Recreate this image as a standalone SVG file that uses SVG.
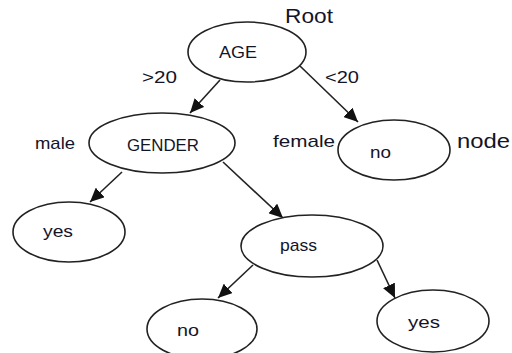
<svg xmlns="http://www.w3.org/2000/svg" width="512" height="353" viewBox="0 0 512 353">
<defs>
<marker id="arr" markerUnits="userSpaceOnUse" markerWidth="15" markerHeight="13" refX="14" refY="6.5" orient="auto">
<path d="M0,0 L14,6.5 L0,13 Z" fill="#111"/>
</marker>
<style>
.n{fill:#fff;stroke:#222;stroke-width:1.6}
.e{stroke:#222;stroke-width:1.6;fill:none;marker-end:url(#arr)}
text{font-family:"Liberation Sans",Arial,sans-serif;font-size:17px;fill:#141428}
.big{font-size:20px}
</style>
</defs>
<rect width="512" height="353" fill="#fff"/>
<g id="connectors">
<line class="e" x1="220" y1="80" x2="190" y2="113"/>
<line class="e" x1="300" y1="66" x2="358" y2="122"/>
<line class="e" x1="122" y1="172" x2="90" y2="202"/>
<line class="e" x1="223" y1="162" x2="283" y2="218"/>
<line class="e" x1="253" y1="265" x2="218" y2="298"/>
<line class="e" x1="377" y1="260" x2="395" y2="298"/>
</g>
<g id="age"><ellipse class="n" cx="247" cy="52" rx="59" ry="30"/><text x="219" y="58" textLength="38" lengthAdjust="spacingAndGlyphs">AGE</text></g>
<g id="gender"><ellipse class="n" cx="162" cy="143" rx="73" ry="30"/><text x="127" y="151" textLength="72" lengthAdjust="spacingAndGlyphs">GENDER</text></g>
<g id="no1"><ellipse class="n" cx="394" cy="150" rx="56" ry="30"/><text x="370" y="158" textLength="21" lengthAdjust="spacingAndGlyphs">no</text></g>
<g id="yes1"><ellipse class="n" cx="69" cy="232" rx="56" ry="30"/><text x="43" y="237" textLength="30" lengthAdjust="spacingAndGlyphs">yes</text></g>
<g id="pass"><ellipse class="n" cx="312" cy="246" rx="71" ry="31"/><text x="280" y="251" textLength="37" lengthAdjust="spacingAndGlyphs">pass</text></g>
<g id="no2"><ellipse class="n" cx="202" cy="329" rx="55" ry="30"/><text x="177" y="336" textLength="22" lengthAdjust="spacingAndGlyphs">no</text></g>
<g id="yes2"><ellipse class="n" cx="433" cy="321" rx="56" ry="31"/><text x="408" y="328" textLength="32" lengthAdjust="spacingAndGlyphs">yes</text></g>
<g id="labels">
<text class="big" x="285" y="23" textLength="48" lengthAdjust="spacingAndGlyphs">Root</text>
<text x="142" y="83" textLength="35" lengthAdjust="spacingAndGlyphs">&gt;20</text>
<text x="325" y="83" textLength="34" lengthAdjust="spacingAndGlyphs">&lt;20</text>
<text x="35" y="149" textLength="40" lengthAdjust="spacingAndGlyphs">male</text>
<text x="273" y="147" textLength="62" lengthAdjust="spacingAndGlyphs">female</text>
<text class="big" x="457" y="148" textLength="53" lengthAdjust="spacingAndGlyphs">node</text>
</g>
</svg>
